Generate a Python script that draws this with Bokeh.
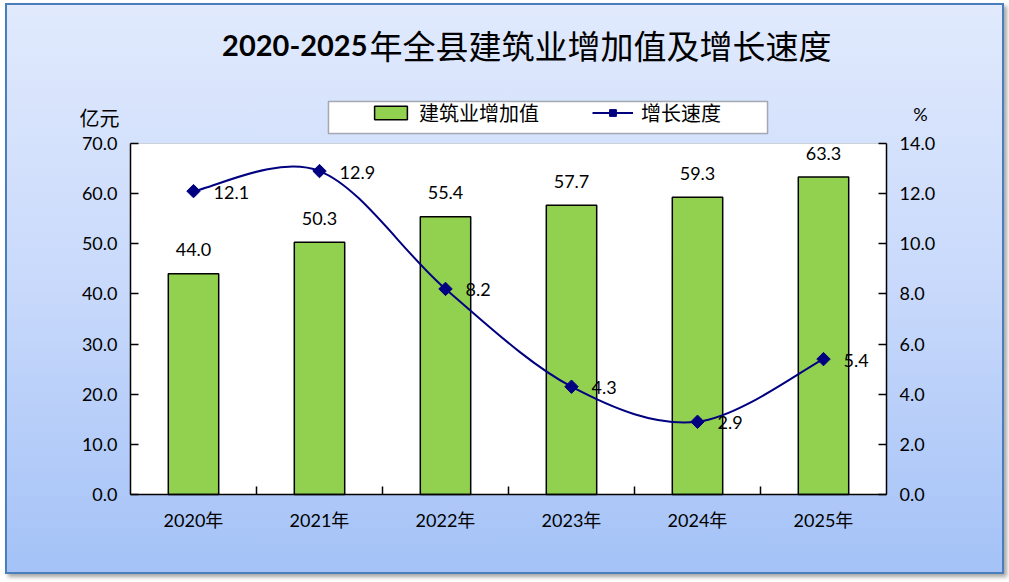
import numpy as np
from bokeh.plotting import figure
from bokeh.models import (Range1d, LinearAxis, FixedTicker, Legend, LegendItem,
                          Label, BoxAnnotation, NumeralTickFormatter)
from bokeh.core.properties import value
from bokeh.embed import file_html
from bokeh.resources import INLINE

# ---- data ----
categories = ["2020年", "2021年", "2022年", "2023年", "2024年", "2025年"]
added_value = [44.0, 50.3, 55.4, 57.7, 59.3, 63.3]      # 亿元
growth_rate = [12.1, 12.9, 8.2, 4.3, 2.9, 5.4]          # %
left_ticks = [0, 10, 20, 30, 40, 50, 60, 70]
right_ticks = [0, 2, 4, 6, 8, 10, 12, 14]
title_year = "2020-2025"
title_rest = "年全县建筑业增加值及增长速度"
bar_name = "建筑业增加值"
line_name = "增长速度"
left_unit = "亿元"
right_unit = "%"

NUM_FONT = "Lato, 'Noto Sans CJK SC'"
CJK_FONT = "'Noto Sans CJK SC'"
BAR_COLOR = "#92d050"
LINE_COLOR = "#000080"
FS = "18px"

# ---- layout (pixels inside the canvas) ----
W, H = 999, 571
PL, PR, PT, PB = 125, 881, 140, 491          # plot area edges in canvas pixels
n_cat = len(categories)
xs = list(range(n_cat))
ppx = (PR - PL) / n_cat                       # pixels per category
ppy = (PB - PT) / (left_ticks[-1] - left_ticks[0])
r_scale = (right_ticks[-1] - right_ticks[0]) / (left_ticks[-1] - left_ticks[0])

x0d, x1d = -0.5, n_cat - 0.5
x_range = Range1d(x0d - PL / ppx, x1d + (W - PR) / ppx)
y_range = Range1d(left_ticks[0] - (H - PB) / ppy, left_ticks[-1] + PT / ppy)
yr_range = Range1d(y_range.start * r_scale, y_range.end * r_scale)

p = figure(width=W, height=H, output_backend="svg", toolbar_location=None,
           x_range=x_range, y_range=y_range, min_border=0,
           margin=(3, 0, 0, 5))
p.extra_y_ranges = {"right": yr_range}
p.title.visible = False
p.border_fill_color = None
p.background_fill_color = None
p.outline_line_color = None
p.xgrid.visible = False
p.ygrid.visible = False
p.styles = {
    "background": "linear-gradient(to bottom, #e1eafd 0%, #c8d9fb 50%, #a4c2f7 100%)",
    "box-shadow": "inset 0 0 0 2px #4a7ebb, 3px 3px 4px rgba(0,0,0,0.35)",
}

# white plot area with grey top edge
p.add_layout(BoxAnnotation(left=x0d, right=x1d, bottom=left_ticks[0], top=left_ticks[-1],
                           fill_color="white", fill_alpha=1, line_color="#898989",
                           line_width=1, level="underlay"))

# x axis: labels at category centers, ticks between categories
xa = p.xaxis[0]
xa.fixed_location = left_ticks[0]
xa.bounds = (x0d, x1d)
xa.ticker = FixedTicker(ticks=xs, minor_ticks=[i + 0.5 for i in xs[:-1]])
xa.major_label_overrides = {i: c for i, c in zip(xs, categories)}
xa.major_tick_in = 0
xa.major_tick_out = 0
xa.minor_tick_in = 8
xa.minor_tick_out = 0
xa.minor_tick_line_color = "black"
xa.minor_tick_line_width = 1.5
xa.axis_line_color = "black"
xa.axis_line_width = 1.5
xa.major_label_standoff = 14
xa.major_label_text_font = NUM_FONT
xa.major_label_text_font_size = FS
xa.major_label_text_color = "black"

ya = p.yaxis[0]
ya.fixed_location = x0d
ya.bounds = (left_ticks[0], left_ticks[-1])
ya.ticker = FixedTicker(ticks=left_ticks)
ya.formatter = NumeralTickFormatter(format="0.0")

ra = LinearAxis(y_range_name="right", ticker=FixedTicker(ticks=right_ticks),
                formatter=NumeralTickFormatter(format="0.0"),
                fixed_location=x1d, bounds=(right_ticks[0], right_ticks[-1]))
p.add_layout(ra, "right")

for ax in (ya, ra):
    ax.major_tick_in = 8
    ax.major_tick_out = 0
    ax.major_tick_line_color = "black"
    ax.major_tick_line_width = 1.5
    ax.minor_tick_line_color = None
    ax.axis_line_color = "black"
    ax.axis_line_width = 1.5
    ax.major_label_standoff = 13
    ax.major_label_text_font = NUM_FONT
    ax.major_label_text_font_size = FS
    ax.major_label_text_color = "black"

# ---- bars ----
r_bar = p.vbar(x=xs, top=added_value, width=0.4, fill_color=BAR_COLOR,
               line_color="black", line_width=1.5)
p.text(x=xs, y=added_value, text=[f"{v:.1f}" for v in added_value],
       text_align="center", text_baseline="middle", y_offset=-24,
       text_font=value(NUM_FONT), text_font_size=FS, text_color="black")

# ---- smoothed line (Catmull-Rom -> cubic Bezier, like Excel smoothing) ----
n = len(growth_rate)
bx0, by0, bx1, by1, bcx0, bcy0, bcx1, bcy1 = ([] for _ in range(8))
for i in range(n - 1):
    pm = i - 1 if i > 0 else i
    pp = i + 2 if i + 2 < n else i + 1
    bx0.append(xs[i]); by0.append(growth_rate[i])
    bx1.append(xs[i + 1]); by1.append(growth_rate[i + 1])
    bcx0.append(xs[i] + (xs[i + 1] - xs[pm]) / 6)
    bcy0.append(growth_rate[i] + (growth_rate[i + 1] - growth_rate[pm]) / 6)
    bcx1.append(xs[i + 1] - (xs[pp] - xs[i]) / 6)
    bcy1.append(growth_rate[i + 1] - (growth_rate[pp] - growth_rate[i]) / 6)
r_line = p.bezier(x0=bx0, y0=by0, x1=bx1, y1=by1, cx0=bcx0, cy0=bcy0,
                  cx1=bcx1, cy1=bcy1, line_color=LINE_COLOR, line_width=2,
                  y_range_name="right")
r_pts = p.scatter(x=xs, y=growth_rate, marker="square", angle=np.pi / 4, size=9.5,
                  fill_color=LINE_COLOR, line_color=LINE_COLOR,
                  y_range_name="right")
p.text(x=xs, y=growth_rate, text=[f"{v:.1f}" for v in growth_rate],
       text_align="left", text_baseline="middle", x_offset=20, y_offset=1,
       text_font=value(NUM_FONT), text_font_size=FS, text_color="black",
       y_range_name="right")

# ---- legend (box in plot pixels converted to data) ----
LB_L, LB_R, LB_T, LB_B = 323, 762, 98, 130
p.add_layout(BoxAnnotation(left=x0d + (LB_L - PL) / ppx, right=x0d + (LB_R - PL) / ppx,
                           top=left_ticks[-1] + (PT - LB_T) / ppy,
                           bottom=left_ticks[-1] + (PT - LB_B) / ppy,
                           fill_color="white", fill_alpha=1,
                           line_color="black", line_width=1.5))
legend = Legend(items=[LegendItem(label=bar_name, renderers=[r_bar]),
                       LegendItem(label=line_name, renderers=[r_line, r_pts])],
                location=(359, H - LB_B), orientation="horizontal", padding=6,
                spacing=53, glyph_width=41, glyph_height=17, label_standoff=8,
                label_text_font=CJK_FONT, label_text_font_size="20px",
                label_text_color="black", border_line_alpha=0,
                background_fill_alpha=0, margin=0)
p.add_layout(legend, "center")

# ---- texts ----
p.add_layout(Label(x=x0d, y=left_ticks[-1], x_offset=237, y_offset=98,
                   text=title_year, text_align="right", text_baseline="middle",
                   text_font="Lato", text_font_style="bold",
                   text_font_size="29px", text_color="black"))
p.add_layout(Label(x=x0d, y=left_ticks[-1], x_offset=239, y_offset=99,
                   text=title_rest, text_align="left", text_baseline="middle",
                   text_font=CJK_FONT, text_font_size="33px", text_color="black"))
p.add_layout(Label(x=x0d, y=left_ticks[-1], x_offset=-11, y_offset=26,
                   text=left_unit, text_align="right", text_baseline="middle",
                   text_font=CJK_FONT, text_font_size="20px", text_color="black"))
p.add_layout(Label(x=x1d, y=right_ticks[-1], y_range_name="right",
                   x_offset=34, y_offset=30, text=right_unit, text_align="center",
                   text_baseline="middle", text_font="Lato",
                   text_font_size="18px", text_color="black"))

open("out.html", "w").write(file_html(p, INLINE, title="2020-2025年全县建筑业增加值及增长速度"))
